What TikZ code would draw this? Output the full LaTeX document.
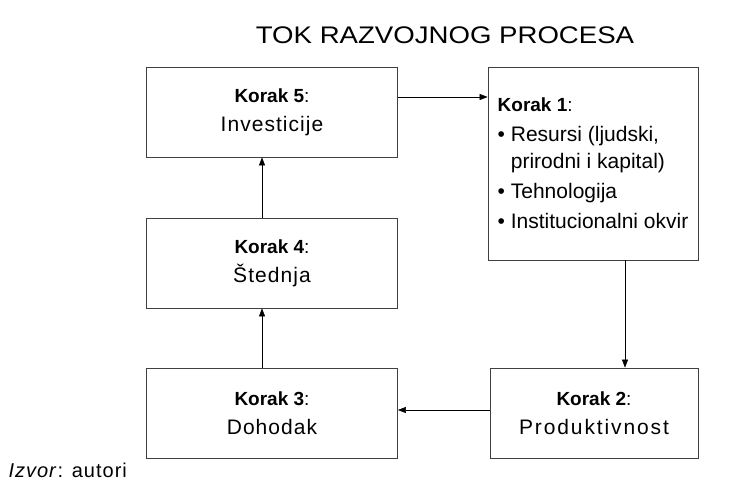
\documentclass[tikz,border=0pt]{standalone}
\usepackage{fontspec}
\setmainfont[LetterSpace=5,BoldFeatures={LetterSpace=0}]{Liberation Sans}
\newfontfamily\naslovfont[FakeStretch=1.15]{Liberation Sans}
\newfontfamily\sirokrazmak[LetterSpace=9]{Liberation Sans}
\newfontfamily\tesnifont{Liberation Sans}
\usetikzlibrary{arrows.meta,positioning}

\begin{document}
\begin{tikzpicture}[
    x=1pt, y=-1pt,
    >={Triangle[length=8pt,width=6pt]},
    korak/.style={draw=black!75, line width=0.8pt, inner sep=0pt,
        minimum width=251pt, minimum height=90pt, align=center,
        font=\fontsize{21}{29}\selectfont},
    tok/.style={->, line width=0.6pt}
]

\useasboundingbox (0,0) rectangle (754,490);

%------------------------------------------------
% Naslov
%------------------------------------------------
\node[font=\naslovfont\fontsize{24}{28}\selectfont] (naslov) at (445,35) {TOK RAZVOJNOG PROCESA};

%------------------------------------------------
% Koraci
%------------------------------------------------
\foreach \y/\nome/\br/\txt in {
112/k5/5/{Investicije},
263/k4/4/{Štednja},
413/k3/3/{Dohodak}}
{
    \node[korak] (\nome) at (272,\y) {{\fontsize{19}{29}\selectfont\textbf{Korak \br}:}\\\txt};
}

\node[korak, minimum width=208pt] (k2) at (594,413)
    {{\fontsize{19}{29}\selectfont\textbf{Korak 2}:}\\{\sirokrazmak Produktivnost}};

\node[korak, minimum width=210pt, minimum height=193pt,
      align=left, font=\tesnifont\fontsize{21}{30}\selectfont] (k1) at (593,163.5)
    {{\fontsize{19}{30}\selectfont\textbf{Korak 1}:}\\
     \textbullet\ Resursi (ljudski,\\[-3pt]
     \hphantom{\textbullet\ }prirodni i kapital)\\
     \textbullet\ Tehnologija\\
     \textbullet\ Institucionalni okvir};

%------------------------------------------------
% Tok
%------------------------------------------------

% k5 -> k1
\draw[tok] ([yshift=15pt]k5.east) -- ([yshift=15pt]k5.east -| k1.west);

% k1 -> k2
\draw[tok] ([xshift=32pt]k1.south) -- ([xshift=32pt]k1.south |- k2.north);

% k2 -> k3
\draw[tok] ([yshift=3pt]k2.west) -- ([yshift=3pt]k2.west -| k3.east);

% k3 -> k4 -> k5
\draw[tok] ([xshift=-10pt]k3.north) -- ([xshift=-10pt]k4.south);
\draw[tok] ([xshift=-10pt]k4.north) -- ([xshift=-10pt]k5.south);

%------------------------------------------------
% Izvor
%------------------------------------------------
\node[anchor=west, font=\fontsize{20}{24}\selectfont] (izvor) at (5,470) {\textit{Izvor}: autori};

\end{tikzpicture}
\end{document}
